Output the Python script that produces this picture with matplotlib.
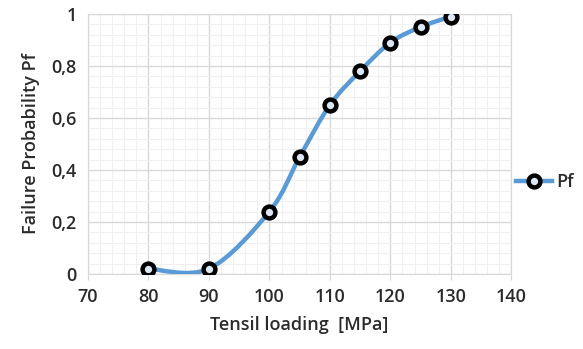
import numpy as np
import matplotlib
matplotlib.use('Agg')
from matplotlib import pyplot as plt
from matplotlib.path import Path
from matplotlib.patches import PathPatch
from matplotlib.lines import Line2D
from matplotlib.ticker import MultipleLocator

plt.rcParams['font.family'] = ['Open Sans', 'DejaVu Sans']

# data
load_mpa = [80, 90, 100, 105, 110, 115, 120, 125, 130]
pf = [0.02, 0.02, 0.24, 0.45, 0.65, 0.78, 0.89, 0.95, 0.99]
x_ticks = [70, 80, 90, 100, 110, 120, 130, 140]
y_ticks = [0, 0.2, 0.4, 0.6, 0.8, 1.0]
y_labels = ['0', '0,2', '0,4', '0,6', '0,8', '1']

blue = '#5B9BD5'
txt = '#2b2b2b'

fig = plt.figure(figsize=(5.83, 3.49), dpi=100)
ax = fig.add_axes([0.151, 0.215, 0.726, 0.745])

# Excel-like smoothed line: cubic bezier segments (catmull-rom style)
x = np.array(load_mpa, dtype=float)
y = np.array(pf, dtype=float)
n = len(x)
verts = [(x[0], y[0])]
codes = [Path.MOVETO]
for i in range(n - 1):
    x0, y0 = (x[i - 1], y[i - 1]) if i > 0 else (x[i], y[i])
    x3, y3 = (x[i + 2], y[i + 2]) if i + 2 < n else (x[i + 1], y[i + 1])
    c1 = (x[i] + (x[i + 1] - x0) / 6, y[i] + (y[i + 1] - y0) / 6)
    c2 = (x[i + 1] - (x3 - x[i]) / 6, y[i + 1] - (y3 - y[i]) / 6)
    verts += [c1, c2, (x[i + 1], y[i + 1])]
    codes += [Path.CURVE4] * 3
ax.add_patch(PathPatch(Path(verts, codes), facecolor='none', edgecolor=blue,
                       lw=3.2, capstyle='round', zorder=3))
ax.plot(load_mpa, pf, ls='none', marker='o', ms=8.5, mfc='#dce8f5', mec='black',
        mew=3.2, zorder=4)

ax.set_xlim(70, 140)
ax.set_ylim(0, 1)
ax.set_xticks(x_ticks)
ax.set_yticks(y_ticks)
ax.set_yticklabels(y_labels)
ax.xaxis.set_minor_locator(MultipleLocator(2))
ax.yaxis.set_minor_locator(MultipleLocator(0.04))
ax.grid(which='major', color='#d9d9d9', lw=1.0)
ax.grid(which='minor', color='#f0f0f0', lw=0.8)
ax.set_axisbelow(True)
for s in ax.spines.values():
    s.set_color('#d9d9d9')
ax.tick_params(axis='x', which='major', length=4, color='#d9d9d9', pad=6,
               labelsize=13, labelcolor=txt)
ax.tick_params(axis='y', which='major', length=0, pad=8, labelsize=13,
               labelcolor=txt)
ax.tick_params(which='minor', length=0)
for lab in ax.get_xticklabels() + ax.get_yticklabels():
    lab.set_fontweight('semibold')

ax.set_xlabel('Tensil loading  [MPa]', fontsize=13, fontweight='semibold',
              color=txt, labelpad=7)
ax.set_ylabel('Failure Probability Pf', fontsize=13, fontweight='semibold',
              color=txt, labelpad=8)

handle = Line2D([], [], color=blue, lw=3.2, marker='o', ms=8.5, mfc='#dce8f5',
                mec='black', mew=3.2)
fig.legend([handle], ['Pf'], loc='center left', bbox_to_anchor=(0.885, 0.479),
           frameon=False, borderpad=0, borderaxespad=0, handlelength=2.0,
           handletextpad=0.25, prop={'size': 13, 'weight': 'semibold'},
           labelcolor=txt)

fig.savefig('out.png', dpi=100)
